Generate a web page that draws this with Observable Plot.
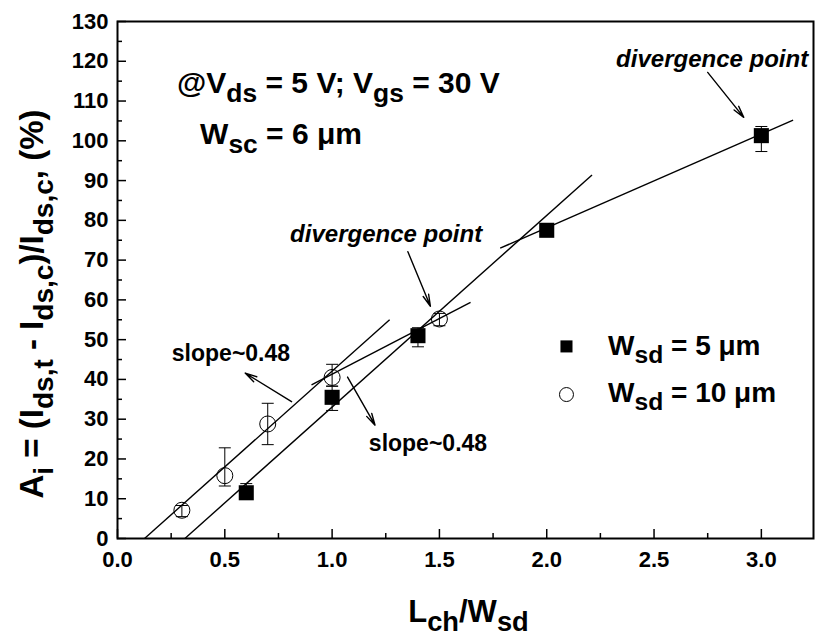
<!DOCTYPE html>
<html><head><meta charset="utf-8">
<script src="https://cdn.jsdelivr.net/npm/d3@7"></script>
<script src="https://cdn.jsdelivr.net/npm/@observablehq/plot@0.6"></script>
<style>
body{margin:0;background:#fff;}
svg text{white-space:pre;}
</style>
</head><body><div id="chart"></div>
<script>
// ---- data ----
const sqX  = [0.6, 1.0, 1.4, 2.0, 3.0];          // W_sd = 5 µm (filled squares)
const sqY  = [11.5, 35.5, 51.0, 77.5, 101.3];
const sqLo = [10.5, 32.2, 48.2, 77.0, 97.3];
const sqHi = [13.8, 38.3, 53.0, 78.5, 103.6];
const ciX  = [0.3, 0.5, 0.7, 1.0, 1.5];          // W_sd = 10 µm (open circles)
const ciY  = [7.1, 15.8, 28.8, 40.5, 55.2];
const ciLo = [5.5, 13.2, 23.6, 38.3, 53.5];
const ciHi = [8.3, 22.8, 34.0, 43.8, 56.6];
// linear fits (segments)
const fitX1 = [0.126, 0.314, 0.904, 1.783];
const fitY1 = [0, 0, 38.6, 73.0];
const fitX2 = [1.268, 2.211, 1.645, 3.148];
const fitY2 = [55.0, 91.4, 59.4, 105.2];
// arrows
const arX1 = [2.750, 1.353, 0.811, 1.072];
const arY1 = [117.2, 72.1, 34.4, 40.6];
const arX2 = [2.918, 1.458, 0.595, 1.200];
const arY2 = [105.9, 58.4, 41.6, 28.5];
// ticks
const xMajor = [0, 0.5, 1.0, 1.5, 2.0, 2.5, 3.0];
const xMinor = [0.25, 0.75, 1.25, 1.75, 2.25, 2.75];
const yMajor = [0, 10, 20, 30, 40, 50, 60, 70, 80, 90, 100, 110, 120, 130];
const yMinor = [5, 15, 25, 35, 45, 55, 65, 75, 85, 95, 105, 115, 125];
// legend
const legendLabels = ["5", "10"];

// ---- layout ----
const W = 816, H = 644;
const mL = 117, mR = 3, mT = 21, mB = 106;
const plotW = W - mL - mR, plotH = H - mT - mB;
const xDom = [0, 3.243], yDom = [0, 130];
const FONT = "'Liberation Sans', Arial, Helvetica, sans-serif";
const capW = 6 * (xDom[1] - xDom[0]) / plotW;

const sq = sqX.map((x, i) => ({x, y: sqY[i], lo: sqLo[i], hi: sqHi[i]}));
const ci = ciX.map((x, i) => ({x, y: ciY[i], lo: ciLo[i], hi: ciHi[i]}));
const all = sq.concat(ci);
const fits = fitX1.map((x, i) => ({x1: x, y1: fitY1[i], x2: fitX2[i], y2: fitY2[i]}));
const arrows = arX1.map((x, i) => ({x1: x, y1: arY1[i], x2: arX2[i], y2: arY2[i]}));
const legendPos = [{x: 2.092, y: 48.3}, {x: 2.092, y: 36.2}];

const plot = Plot.plot({
  width: W, height: H,
  marginLeft: mL, marginRight: mR, marginTop: mT, marginBottom: mB,
  x: {domain: xDom, label: null},
  y: {domain: yDom, label: null},
  style: {fontFamily: FONT, background: "white", color: "black"},
  marks: [
    Plot.tickX(xMajor, {x: d => d, insetTop: plotH - 9, strokeWidth: 1.5}),
    Plot.tickX(xMinor, {x: d => d, insetTop: plotH - 5, strokeWidth: 1.5}),
    Plot.tickY(yMajor, {y: d => d, insetRight: plotW - 9, strokeWidth: 1.5}),
    Plot.tickY(yMinor, {y: d => d, insetRight: plotW - 5, strokeWidth: 1.5}),
    Plot.axisX({ticks: xMajor, tickSize: 0, tickPadding: 13, tickFormat: d3.format(".1f"),
      fontSize: 22, fontWeight: "bold", label: null}),
    Plot.axisY({ticks: yMajor, tickSize: 0, tickPadding: 9, tickFormat: d3.format("d"),
      fontSize: 22, fontWeight: "bold", label: null}),
    Plot.link(fits, {x1: "x1", y1: "y1", x2: "x2", y2: "y2", stroke: "black", strokeWidth: 1.4}),
    Plot.link(all, {x1: "x", x2: "x", y1: "lo", y2: "hi", stroke: "black", strokeWidth: 1}),
    Plot.link(all, {x1: d => d.x - capW, x2: d => d.x + capW, y1: "lo", y2: "lo", stroke: "black", strokeWidth: 1}),
    Plot.link(all, {x1: d => d.x - capW, x2: d => d.x + capW, y1: "hi", y2: "hi", stroke: "black", strokeWidth: 1}),
    Plot.dot(sq, {x: "x", y: "y", symbol: "square", r: 8.5, fill: "black", stroke: null}),
    Plot.dot(ci, {x: "x", y: "y", symbol: "circle", r: 8, fill: "none", stroke: "black", strokeWidth: 1}),
    Plot.dot(legendPos.slice(0,1), {x: "x", y: "y", symbol: "square", r: 6.8, fill: "black", stroke: null}),
    Plot.dot(legendPos.slice(1), {x: "x", y: "y", symbol: "circle", r: 7, fill: "none", stroke: "black", strokeWidth: 1}),
    Plot.arrow(arrows, {x1: "x1", y1: "y1", x2: "x2", y2: "y2", stroke: "black", strokeWidth: 1.4, headLength: 13, headAngle: 28}),
    Plot.frame({stroke: "black", strokeWidth: 2})
  ]
});
document.getElementById("chart").appendChild(plot);

const sx = plot.scale("x"), sy = plot.scale("y");
const svg = d3.select(plot);

function rich(parts, {x, y, size, subScale = 0.88, subShift = 0.3, anchor = "start", rotate = 0, italic = false}) {
  const t = svg.append("text")
    .attr("transform", `translate(${x},${y}) rotate(${rotate})`)
    .attr("text-anchor", anchor)
    .attr("font-family", FONT).attr("font-weight", "bold")
    .attr("font-size", size).attr("fill", "black");
  if (italic) t.attr("font-style", "italic");
  let cur = 0;
  for (const [s, sub] of parts) {
    const target = sub ? size * subShift : 0;
    t.append("tspan").text(s).attr("dy", target - cur).attr("font-size", sub ? size * subScale : size);
    cur = target;
  }
}
const dx = v => sx.apply(v), dy = v => sy.apply(v);

rich([["@V",0],["ds",1],[" = 5 V; V",0],["gs",1],[" = 30 V",0]], {x: dx(0.280), y: dy(111.9), size: 30});
rich([["W",0],["sc",1],[" = 6 μm",0]], {x: dx(0.387), y: dy(99.1), size: 30});
rich([["W",0],["sd",1],[` = ${legendLabels[0]} μm`,0]], {x: dx(2.288), y: dy(46.0), size: 28});
rich([["W",0],["sd",1],[` = ${legendLabels[1]} μm`,0]], {x: dx(2.288), y: dy(34.2), size: 28});
rich([["divergence point",0]], {x: dx(2.773), y: dy(118.4), size: 24, anchor: "middle", italic: true});
rich([["divergence point",0]], {x: dx(1.254), y: dy(74.4), size: 24, anchor: "middle", italic: true});
rich([["slope~0.48",0]], {x: dx(0.531), y: dy(44.5), size: 23, anchor: "middle"});
rich([["slope~0.48",0]], {x: dx(1.449), y: dy(21.9), size: 23, anchor: "middle"});
// axis titles
rich([["L",0],["ch",1],["/W",0],["sd",1]], {x: mL + plotW * 0.505, y: 622, size: 31, anchor: "middle"});
rich([["A",0],["i",1],[" = (I",0],["ds,t",1],[" - I",0],["ds,c",1],[")/I",0],["ds,c",1],[", (%)",0]],
  {x: 43, y: 304, size: 33, subScale: 0.85, anchor: "middle", rotate: -90});
</script>
</body></html>
